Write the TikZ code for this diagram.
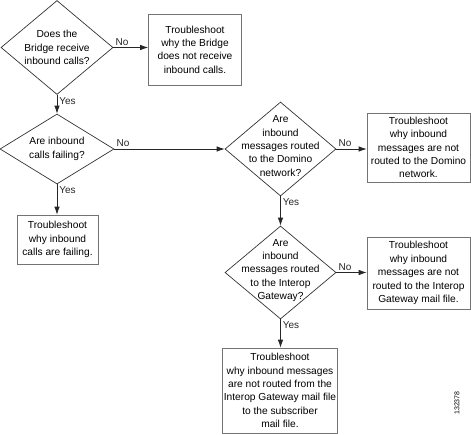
\documentclass[tikz,border=0pt]{standalone}
\usepackage{fontspec}
\setmainfont{Liberation Sans}
\usetikzlibrary{arrows.meta,shapes.geometric}

\begin{document}
\begin{tikzpicture}[x=1pt, y=-1pt,
    dec/.style={draw=black!80, diamond, inner sep=0pt, line width=0.7pt},
    box/.style={draw=black!55, rectangle, inner sep=0pt, line width=0.7pt, align=center, font=\fontsize{10.2}{13.4}\selectfont},
    txt/.style={align=center, font=\fontsize{10.2}{13.4}\selectfont},
    arr/.style={-{Latex[length=8pt,width=5.5pt]}, line width=0.7pt, black!85},
    lbl/.style={font=\fontsize{10}{12}\selectfont, inner sep=2pt},
]
\useasboundingbox (0,0) rectangle (471,434);

\node[dec, minimum width=112, minimum height=94, label={[txt]center:Does the\\Bridge receive\\inbound calls?}] (d1) at (57,47.5) {};
\node[dec, minimum width=114, minimum height=70, label={[txt]center:Are inbound\\calls failing?}] (d2) at (57,149) {};
\node[dec, minimum width=111, minimum height=94, label={[txt, yshift=3pt]center:Are\\inbound\\messages routed\\to the Domino\\network?}] (d3) at (280.5,149) {};
\node[dec, minimum width=111, minimum height=93, label={[txt, yshift=2pt]center:Are\\inbound\\messages routed\\to the Interop\\Gateway?}] (d4) at (280.5,272.5) {};

\node[box, minimum width=93, minimum height=71] (b1) at (195,49.5) {Troubleshoot\\why the Bridge\\does not receive\\inbound calls.};
\node[box, minimum width=81, minimum height=49] (b2) at (57.5,239.5) {Troubleshoot\\why inbound\\calls are failing.};
\node[box, minimum width=103, minimum height=69] (b3) at (418.5,147.5) {Troubleshoot\\why inbound\\messages are not\\routed to the Domino\\network.};
\node[box, minimum width=103, minimum height=72] (b4) at (418.5,273) {Troubleshoot\\why inbound\\messages are not\\routed to the Interop\\Gateway mail file.};
\node[box, minimum width=115, minimum height=85] (b5) at (280,390.5) {Troubleshoot\\why inbound messages\\are not routed from the\\Interop Gateway mail file\\to the subscriber\\mail file.};

\node[rotate=90, font=\fontsize{7}{8}\selectfont] (num) at (457,403) {132378};

\draw[arr] (d1.east) -- (b1.west |- d1.east) node[lbl, pos=0, above right] {No};
\draw[arr] (d1.south) -- (d2.north) node[lbl, pos=0, below right] {Yes};
\draw[arr] (d2.east) -- (d3.west) node[lbl, pos=0, above right] {No};
\draw[arr] (d2.south) -- (b2.north -| d2.south) node[lbl, pos=0, below right] {Yes};
\draw[arr] (d3.east) -- (b3.west |- d3.east) node[lbl, pos=0, above right] {No};
\draw[arr] (d3.south) -- (d4.north) node[lbl, pos=0, below right] {Yes};
\draw[arr] (d4.east) -- (b4.west |- d4.east) node[lbl, pos=0, above right] {No};
\draw[arr] (d4.south) -- (b5.north -| d4.south) node[lbl, pos=0, below right] {Yes};
\end{tikzpicture}
\end{document}
